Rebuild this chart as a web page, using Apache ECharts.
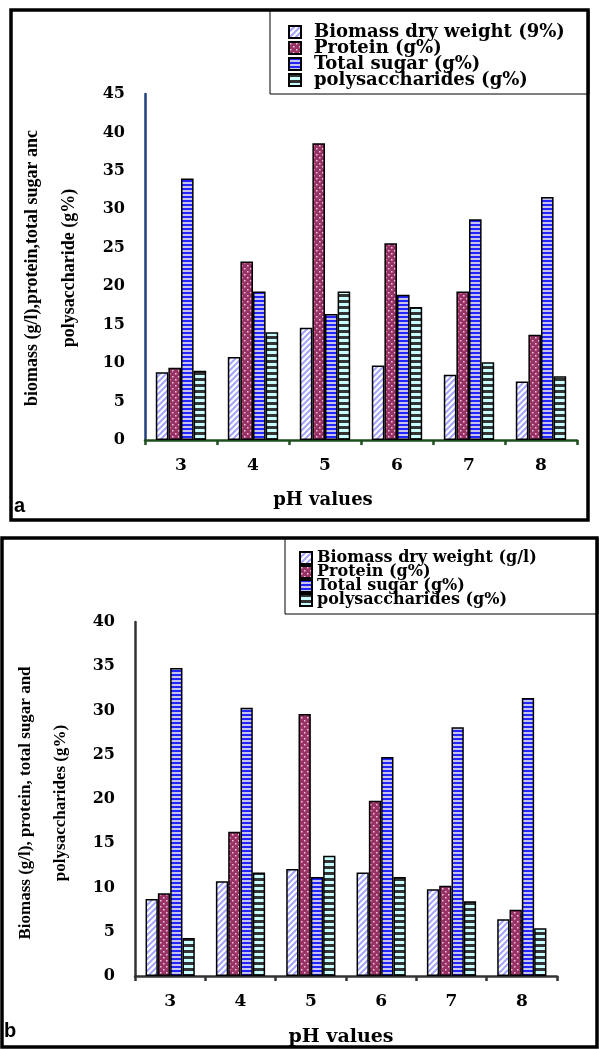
<!DOCTYPE html>
<html lang="en">
<head>
  <meta charset="UTF-8">
  <title>pH effect</title>
  <script src="https://cdn.jsdelivr.net/npm/echarts@6/dist/echarts.min.js"></script>
  <style>
    body { margin: 0; background: #fff; }
    #a { width: 599px; height: 530px; }
    #b { width: 599px; height: 520px; }
  </style>
</head>
<body>
  <div id="a"></div>
  <div id="b"></div>

  <script>
    // pH values on the x axis
    var categories = ['3', '4', '5', '6', '7', '8']

    // panel a
    var namesA = ['Biomass dry weight (9%)', 'Protein (g%)', 'Total sugar (g%)', 'polysaccharides (g%)']
    var biomassA = [8.8, 10.8, 14.6, 9.7, 8.5, 7.6]
    var proteinA = [9.4, 23.2, 38.6, 25.6, 19.3, 13.7]
    var sugarA = [34.0, 19.3, 16.4, 18.9, 28.7, 31.6]
    var polyA = [9.0, 14.0, 19.3, 17.3, 10.1, 8.3]

    // panel b
    var namesB = ['Biomass dry weight (g/l)', 'Protein (g%)', 'Total sugar (g%)', 'polysaccharides (g%)']
    var biomassB = [8.7, 10.7, 12.1, 11.7, 9.8, 6.4]
    var proteinB = [9.35, 16.3, 29.6, 19.8, 10.2, 7.5]
    var sugarB = [34.8, 30.3, 11.2, 24.75, 28.1, 31.4]
    var polyB = [4.3, 11.7, 13.6, 11.2, 8.45, 5.4]

    // 图案填充（小画布平铺）
    function pattern(w, h, draw) {
      var c = document.createElement('canvas')
      c.width = w
      c.height = h
      draw(c.getContext('2d'))
      return { image: c, repeat: 'repeat' }
    }
    var fills = [
      pattern(6, 6, function (g) {
        g.fillStyle = '#fff'; g.fillRect(0, 0, 6, 6)
        g.strokeStyle = '#a4a4ff'; g.lineWidth = 2
        g.beginPath()
        g.moveTo(-1, 7); g.lineTo(7, -1)
        g.moveTo(-1, 1); g.lineTo(1, -1)
        g.moveTo(5, 7); g.lineTo(7, 5)
        g.stroke()
      }),
      pattern(6, 6, function (g) {
        g.fillStyle = '#993366'; g.fillRect(0, 0, 6, 6)
        g.fillStyle = '#f2c6dc'
        g.fillRect(1, 1, 1.5, 1.5)
        g.fillRect(4, 4, 1.5, 1.5)
      }),
      pattern(2, 4, function (g) {
        g.fillStyle = '#c4c4ec'; g.fillRect(0, 0, 2, 4)
        g.fillStyle = '#2323ff'; g.fillRect(0, 0, 2, 2)
      }),
      pattern(2, 6, function (g) {
        g.fillStyle = '#c8ffff'; g.fillRect(0, 0, 2, 6)
        g.fillStyle = '#333'; g.fillRect(0, 0, 2, 3)
      })
    ]

    var serif = 'Liberation Serif'
    var wide = 'DejaVu Serif'

    // 量一下图例最长文字的宽度，让图例框右边贴住外框
    var measureCtx = document.createElement('canvas').getContext('2d')
    function textWidth(list, size) {
      measureCtx.font = 'bold ' + size + 'px ' + wide
      return Math.max.apply(null, list.map(function (s) { return measureCtx.measureText(s).width }))
    }

    function makeOption(cfg) {
      var data = [cfg.biomass, cfg.protein, cfg.sugar, cfg.poly]
      var lg = cfg.legend
      var used = lg.padL + 12 + 5 + lg.textPad + textWidth(cfg.names, lg.fontSize)
      var padR = Math.max(4, lg.right - lg.left - used)
      return {
        backgroundColor: '#fff',
        animation: false,
        grid: cfg.grid,
        legend: {
          orient: 'vertical',
          left: lg.left,
          top: lg.top,
          itemWidth: 12,
          itemHeight: 12,
          itemGap: lg.gap,
          padding: [lg.padT, padR, lg.padB, lg.padL],
          backgroundColor: '#fff',
          borderColor: '#000',
          borderWidth: 1,
          icon: 'rect',
          selectedMode: false,
          textStyle: {
            fontFamily: wide,
            fontWeight: 'bold',
            fontSize: lg.fontSize,
            padding: [0, 0, 0, lg.textPad],
            color: '#000'
          },
          data: cfg.names
        },
        xAxis: {
          type: 'category',
          data: categories,
          axisLine: { lineStyle: { color: cfg.xColor, width: 2.5 } },
          axisTick: { show: true, length: 5, lineStyle: { color: cfg.xColor, width: 2.5 } },
          axisLabel: { margin: cfg.xMargin, fontFamily: wide, fontWeight: 'bold', fontSize: 17, color: '#000' }
        },
        yAxis: {
          type: 'value',
          min: 0,
          max: cfg.max,
          interval: 5,
          splitLine: { show: false },
          axisLine: { show: true, lineStyle: { color: cfg.yColor, width: 2.5 } },
          axisTick: { show: false },
          axisLabel: { margin: cfg.yMargin, fontFamily: wide, fontWeight: 'bold', fontSize: 16, color: '#000' }
        },
        series: cfg.names.map(function (n, i) {
          return {
            name: n,
            type: 'bar',
            data: data[i],
            barGap: '0%',
            barCategoryGap: '30%',
            itemStyle: { color: fills[i], borderColor: '#000', borderWidth: 1.5 }
          }
        }),
        graphic: [
          {
            type: 'rect', z: 100, silent: true,
            shape: cfg.frame,
            style: { fill: null, stroke: '#000', lineWidth: 3.5 }
          },
          {
            type: 'text', x: cfg.yTitle.x, y: cfg.yTitle.y, rotation: Math.PI / 2,
            style: {
              text: cfg.yTitle.text, fontFamily: serif, fontWeight: 'bold', fontSize: cfg.yTitle.size,
              lineHeight: cfg.yTitle.lineHeight, align: 'center', verticalAlign: 'middle', fill: '#000'
            }
          },
          {
            type: 'text', x: cfg.xTitle.x, y: cfg.xTitle.y,
            style: {
              text: 'pH values', fontFamily: wide, fontWeight: 'bold', fontSize: cfg.xTitle.size,
              align: 'center', verticalAlign: 'middle', fill: '#000'
            }
          },
          {
            type: 'text', x: cfg.tag.x, y: cfg.tag.y,
            style: {
              text: cfg.tag.text, fontFamily: 'Liberation Sans', fontWeight: 'bold', fontSize: 20,
              align: 'left', verticalAlign: 'middle', fill: '#000'
            }
          }
        ]
      }
    }

    var chartA = echarts.init(document.getElementById('a'))
    chartA.setOption(makeOption({
      names: namesA, biomass: biomassA, protein: proteinA, sugar: sugarA, poly: polyA,
      max: 45,
      grid: { left: 145, right: 22, top: 94, bottom: 90 },
      xColor: '#1f4f1f', yColor: '#1f3f78', yMargin: 20, xMargin: 17,
      legend: { left: 270, right: 588, top: 10, fontSize: 18, gap: -2, padT: 13, padB: 5, padL: 18, textPad: 8 },
      frame: { x: 11, y: 10, width: 577, height: 510 },
      yTitle: { x: 51, y: 268, size: 18, lineHeight: 37, text: 'biomass (g/l),protein,total sugar anc\npolysaccharide (g%)' },
      xTitle: { x: 323, y: 500, size: 18 },
      tag: { x: 14, y: 506, text: 'a' }
    }))

    var chartB = echarts.init(document.getElementById('b'))
    chartB.setOption(makeOption({
      names: namesB, biomass: biomassB, protein: proteinB, sugar: sugarB, poly: polyB,
      max: 40,
      grid: { left: 135, right: 42, top: 92, bottom: 74 },
      xColor: '#333', yColor: '#333', yMargin: 20, xMargin: 17,
      legend: { left: 285, right: 597, top: 8, fontSize: 16, gap: -2, padT: 12, padB: 6, padL: 14, textPad: 0 },
      frame: { x: 2, y: 8, width: 595, height: 509 },
      yTitle: { x: 43, y: 273, size: 17, lineHeight: 35, text: 'Biomass (g/l), protein, total sugar and\npolysaccharides (g%)' },
      xTitle: { x: 341, y: 507, size: 19 },
      tag: { x: 4, y: 501, text: 'b' }
    }))
  </script>
</body>
</html>
